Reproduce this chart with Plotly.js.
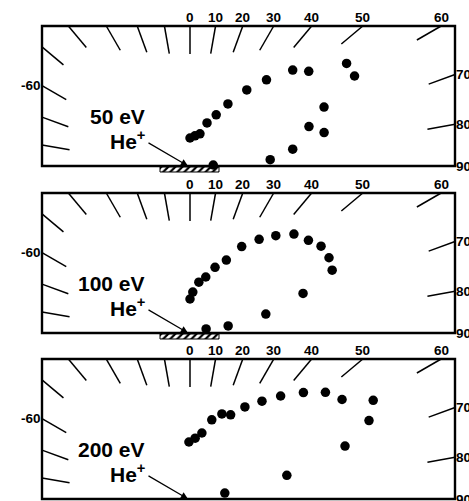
<!DOCTYPE html>
<html>
<head>
<meta charset="utf-8">
<script src="https://cdn.plot.ly/plotly-3.0.1.min.js"></script>
<style>html,body{margin:0;padding:0;background:#fff;}#chart{width:469px;height:501px;}</style>
</head>
<body>
<div id="chart"></div>
<script>
// ---- data: polar angle (deg) and radial distance (arb. units) of each dot ----
const energies = ['50 eV', '100 eV', '200 eV'];
const ion = 'He<sup>+</sup>';

const ang50 = [0, 8, 15, 19.5, 25, 29.5, 35, 40, 45.5, 50, 55.5, 60, 64.5, 69.5, 74, 78, 82, 75.5];
const r50   = [33, 35.5, 38.5, 51, 62, 77, 99, 119, 144, 155, 190, 190, 148.5, 127, 139.5, 105, 81, 24];

const ang100 = [0, 3.5, 9, 14.5, 19.5, 25, 29.5, 35, 40, 45, 50.5, 55, 60, 64.5, 68.5, 72.5, 72.5, 60.5];
const r100   = [39, 46, 56.5, 63, 75, 86, 105, 120.5, 133.5, 147, 153.5, 160, 160.5, 157.5, 121.5, 79.5, 40, 18.5];

const ang200 = [-1, 4.5, 9.5, 14.5, 19.5, 24.5, 29.5, 35, 40, 45.5, 50.5, 55.5, 60.5, 65, 69.5, 73.5, 72.5];
const r200   = [62, 66, 72, 87, 95.5, 98, 111.5, 125.5, 141, 159, 175.5, 184.5, 210.5, 197.5, 165.5, 101, 36.5];

const tickAngles = [-80, -70, -60, -50, -40, -30, -20, -10, 0, 10, 20, 30, 40, 50, 60, 70, 80];
const topLabels = [0, 10, 20, 30, 40, 50, 60];
const rightLabels = [70, 80, 90];
const leftLabels = [-60];

// ---- frame geometry (units: sample at origin, equal x/y units) ----
const BOX = {left: -148, right: 265, top: 145, bottom: 5};
const TICKLEN = 28;
const originPx = [171, 338, 504];
const W = 469, Hpx = 501;

const angSets = [ang50, ang100, ang200];
const radSets = [r50, r100, r200];
const hatch = [true, true, false];

const d2r = Math.PI / 180;
function edgeT(th) {
  const s = Math.sin(th * d2r), c = Math.cos(th * d2r);
  let t = Infinity;
  if (c > 1e-9) t = Math.min(t, BOX.top / c);
  if (s > 1e-9) t = Math.min(t, BOX.right / s);
  if (s < -1e-9) t = Math.min(t, BOX.left / s);
  return t;
}

const FONT = 'Liberation Sans, Arial, Helvetica, sans-serif';
const traces = [];
const shapes = [];
const annotations = [];
const layout = {
  width: W, height: Hpx,
  margin: {l: 0, r: 0, t: 0, b: 0},
  paper_bgcolor: '#fff', plot_bgcolor: 'rgba(0,0,0,0)',
  showlegend: false,
  shapes: shapes, annotations: annotations
};

for (let p = 0; p < 3; p++) {
  const sfx = p === 0 ? '' : String(p + 1);
  const xa = 'x' + sfx, ya = 'y' + sfx;
  const o = originPx[p];
  const topPx = o - 147;
  const botPx = Math.min(o + 3, Hpx);
  layout['xaxis' + sfx] = {domain: [0, 1], range: [-190, 279], visible: false, fixedrange: true, anchor: ya};
  layout['yaxis' + sfx] = {domain: [1 - botPx / Hpx, 1 - topPx / Hpx], range: [o - botPx, 147],
                           visible: false, fixedrange: true, anchor: xa};

  // frame
  shapes.push({type: 'rect', xref: xa, yref: ya, x0: BOX.left, x1: BOX.right, y0: BOX.bottom, y1: BOX.top,
               line: {color: '#000', width: 2.4}, layer: 'below'});

  // radial tick marks
  const tx = [], ty = [];
  tickAngles.forEach(a => {
    const t = edgeT(a), s = Math.sin(a * d2r), c = Math.cos(a * d2r);
    tx.push((t - TICKLEN) * s, t * s, null);
    ty.push((t - TICKLEN) * c, t * c, null);
  });
  traces.push({type: 'scatter', mode: 'lines', x: tx, y: ty, xaxis: xa, yaxis: ya,
               line: {color: '#000', width: 1.5}, hoverinfo: 'skip'});

  // sample (hatched)
  if (hatch[p]) {
    traces.push({type: 'scatter', mode: 'lines', x: [-30, 29, 29, -30, -30], y: [-1, -1, 4, 4, -1],
                 xaxis: xa, yaxis: ya, fill: 'toself', fillcolor: '#fff',
                 fillpattern: {shape: '/', fgcolor: '#000', bgcolor: '#fff', size: 5, solidity: 0.45},
                 line: {color: '#000', width: 1}, hoverinfo: 'skip'});
  }

  // data dots
  const A = angSets[p], R = radSets[p];
  traces.push({type: 'scatter', mode: 'markers', xaxis: xa, yaxis: ya,
               x: A.map((a, i) => R[i] * Math.sin(a * d2r)),
               y: A.map((a, i) => R[i] * Math.cos(a * d2r)),
               marker: {color: '#000', size: 9.5}, cliponaxis: false});

  // angle labels
  const lf = {family: FONT, size: 13.5, color: '#000'};
  topLabels.forEach(a => {
    annotations.push({xref: xa, yref: ya, x: BOX.top * Math.tan(a * d2r), y: BOX.top, text: '<b>' + a + '</b>',
                      showarrow: false, xanchor: 'center', yanchor: 'bottom', yshift: -1, font: lf});
  });
  rightLabels.forEach(a => {
    const yy = a === 90 ? BOX.bottom : BOX.right / Math.tan(a * d2r);
    annotations.push({xref: xa, yref: ya, x: BOX.right, y: yy, text: '<b>' + a + '</b>',
                      showarrow: false, xanchor: 'left', yanchor: 'middle', xshift: -1, font: lf});
  });
  leftLabels.forEach(a => {
    annotations.push({xref: xa, yref: ya, x: BOX.left, y: BOX.left / Math.tan(a * d2r), text: '<b>' + a + '</b>',
                      showarrow: false, xanchor: 'right', yanchor: 'middle', xshift: 1, font: lf});
  });

  // beam labels and arrow
  const bf = {family: FONT, size: 21, color: '#000'};
  annotations.push({xref: xa, yref: ya, x: -43, y: 55, text: '<b>' + energies[p] + '</b>',
                    showarrow: false, xanchor: 'right', yanchor: 'middle', font: bf});
  annotations.push({xref: xa, yref: ya, x: -43, y: 31.5, text: '<b>' + ion + '</b>',
                    showarrow: false, xanchor: 'right', yanchor: 'middle', font: bf});
  annotations.push({xref: xa, yref: ya, x: -2, y: 5, axref: xa, ayref: ya, ax: -43, ay: 29, text: '',
                    showarrow: true, arrowhead: 2, arrowsize: 1.2, arrowwidth: 1.2, arrowcolor: '#000', standoff: 0});
}

Plotly.newPlot('chart', traces, layout, {staticPlot: true, displayModeBar: false});
</script>
</body>
</html>
